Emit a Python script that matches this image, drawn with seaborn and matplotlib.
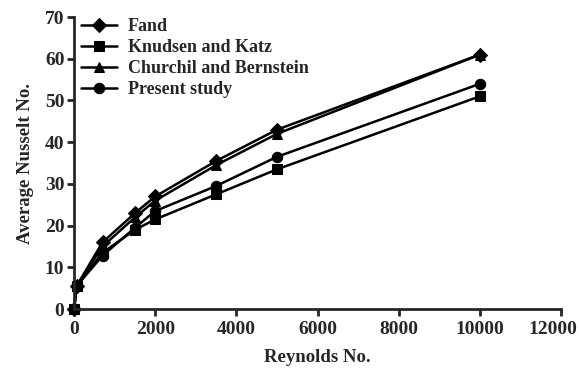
import numpy as np
import pandas as pd
import matplotlib
matplotlib.use("Agg")
import matplotlib.pyplot as plt
import matplotlib.transforms as mtransforms
import seaborn as sns

reynolds = [0, 60, 700, 1500, 2000, 3500, 5000, 10000]
fand = [0, 5.5, 16.0, 23.0, 27.0, 35.5, 43.0, 61.0]
knudsen = [0, 5.5, 13.5, 19.0, 21.5, 27.5, 33.5, 51.0]
churchil = [0, 5.5, 15.0, 22.0, 26.0, 34.5, 42.0, 61.0]
present = [0, 5.5, 12.8, 19.5, 23.5, 29.5, 36.5, 54.0]

series_names = ["Fand", "Knudsen and Katz", "Churchil and Bernstein", "Present study"]
series_values = [fand, knudsen, churchil, present]
markers = {"Fand": "D", "Knudsen and Katz": "s", "Churchil and Bernstein": "^", "Present study": "o"}
xticks = [0, 2000, 4000, 6000, 8000, 10000, 12000]
yticks = [0, 10, 20, 30, 40, 50, 60, 70]

df = pd.concat([pd.DataFrame({"Re": reynolds, "Nu": v, "series": n})
                for n, v in zip(series_names, series_values)], ignore_index=True)

sns.set_style("ticks")
plt.rcParams['font.family'] = ['Liberation Serif', 'DejaVu Serif']
plt.rcParams['font.weight'] = 'bold'

fig = plt.figure(figsize=(5.79, 3.71), dpi=100)
ax = fig.add_axes([0.128, 0.167, 0.841, 0.787])

sns.lineplot(data=df, x="Re", y="Nu", hue="series", style="series",
             palette=["black"] * 4, markers=markers, dashes=False,
             markersize=7.5, linewidth=1.8, markeredgecolor="black",
             hue_order=series_names, style_order=series_names, ax=ax,
             clip_on=False)

ax.set_xlim(0, 12000)
ax.set_ylim(0, 70)
ax.set_xticks(xticks)
ax.set_yticks(yticks)
ax.tick_params(axis="both", width=2, length=5, labelsize=14, direction="out")
ax.tick_params(axis="y", pad=2)
for lab in ax.get_xticklabels() + ax.get_yticklabels():
    lab.set_fontweight("bold")
# keep the last x tick label inside the figure
last = ax.get_xticklabels()[-1]
last.set_transform(last.get_transform() +
                   mtransforms.ScaledTranslation(-8 / 100, 0, fig.dpi_scale_trans))
for s in ["left", "bottom"]:
    ax.spines[s].set_linewidth(2)
sns.despine(ax=ax)
ax.set_xlabel("Reynolds No.", fontsize=13.5, fontweight="bold", labelpad=8)
ax.set_ylabel("Average Nusselt No.", fontsize=13.5, fontweight="bold", labelpad=8)

leg = ax.legend(loc="upper left", bbox_to_anchor=(0.005, 1.012), frameon=False,
                prop={"size": 13, "weight": "bold"}, handlelength=2.0,
                labelspacing=0.22, borderaxespad=0.15, handletextpad=0.6,
                borderpad=0.1)

fig.savefig("out.png", dpi=100)
